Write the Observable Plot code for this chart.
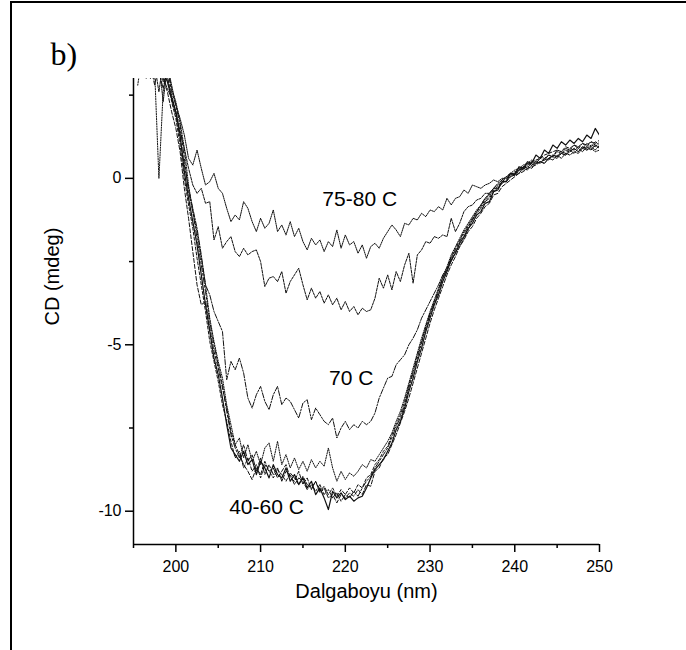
<!DOCTYPE html>
<html>
<head>
<meta charset="utf-8">
<script src="https://cdn.jsdelivr.net/npm/d3@7"></script>
<script src="https://cdn.jsdelivr.net/npm/@observablehq/plot@0.6"></script>
<style>
  html, body { margin: 0; padding: 0; background: #fff; overflow: hidden; }
  #fig { position: relative; width: 686px; height: 650px; overflow: hidden; background: #fff; }
  #fig svg { position: absolute; left: 0; top: 0; }
</style>
</head>
<body>
<div id="fig"></div>
<script>
// Wavelength grid (nm), 0.5 nm steps
const wavelength = [
  195.5, 196, 196.5, 197, 197.5, 198, 198.5, 199, 199.5,
  200, 200.5, 201, 201.5, 202, 202.5, 203, 203.5, 204, 204.5, 205, 205.5, 206, 206.5, 207, 207.5, 208, 208.5, 209, 209.5,
  210, 210.5, 211, 211.5, 212, 212.5, 213, 213.5, 214, 214.5, 215, 215.5, 216, 216.5, 217, 217.5, 218, 218.5, 219, 219.5,
  220, 220.5, 221, 221.5, 222, 222.5, 223, 223.5, 224, 224.5, 225, 225.5, 226, 226.5, 227, 227.5, 228, 228.5, 229, 229.5,
  230, 230.5, 231, 231.5, 232, 232.5, 233, 233.5, 234, 234.5, 235, 235.5, 236, 236.5, 237, 237.5, 238, 238.5, 239, 239.5,
  240, 240.5, 241, 241.5, 242, 242.5, 243, 243.5, 244, 244.5, 245, 245.5, 246, 246.5, 247, 247.5, 248, 248.5, 249, 249.5,
  250
];

// CD signal (mdeg) at each temperature
const cd40 = [
  3.4, 3.6, 3.1, 3.8, 3.3, 3.9, 3.2, 2.9, 2.4,
  2.0, 1.3, 0.2, -0.6, -1.3, -2.0, -2.9, -3.8, -4.6, -5.4, -5.9, -6.6, -7.4, -8.1, -8.3, -8.5, -8.2, -8.6, -8.45, -8.9,
  -8.5, -8.7, -9.0, -8.6, -8.9, -9.0, -8.7, -9.1, -8.9, -9.2, -9.0, -9.3, -9.1, -9.5, -9.3, -9.6, -9.95, -9.4, -9.6, -9.45,
  -9.65, -9.55, -9.7, -9.6, -9.55, -9.3, -9.0, -8.75, -8.6, -8.45, -8.2, -7.95, -7.55, -7.3, -6.9, -6.4, -6.0, -5.5, -5.1, -4.6,
  -4.2, -3.8, -3.5, -3.1, -2.8, -2.45, -2.25, -1.95, -1.75, -1.5, -1.35, -1.1, -1.0, -0.75, -0.7, -0.4, -0.35, -0.1, -0.1, 0.15,
  0.1, 0.35, 0.3, 0.5, 0.45, 0.7, 0.6, 0.85, 0.75, 1.0, 0.9, 1.1, 1.0, 1.15, 1.05, 1.2, 1.1, 1.3, 1.2, 1.5,
  1.3
];
const cd45 = [
  4.0, 3.2, 3.9, 3.4, 2.8, 3.5, 3.0, 2.6, 2.0,
  1.5, 0.8, -0.3, -1.2, -2.2, -3.2, -3.8, -3.7, -4.5, -5.2, -5.7, -6.3, -6.9, -7.6, -8.0, -8.3, -8.6, -8.8, -9.05, -8.7,
  -8.9, -8.5, -8.8, -8.7, -9.0, -8.8, -8.6, -9.0, -9.1, -8.8, -9.2, -9.0, -9.35, -9.1, -9.45, -9.3, -9.6, -9.5, -9.75, -9.5,
  -9.6, -9.45, -9.55, -9.35, -9.5, -9.2, -9.25, -8.8, -8.7, -8.4, -8.3, -8.0, -7.7, -7.35, -7.0, -6.6, -6.15, -5.7, -5.25, -4.8,
  -4.35, -3.95, -3.6, -3.25, -2.9, -2.6, -2.35, -2.05, -1.85, -1.6, -1.45, -1.2, -1.05, -0.85, -0.75, -0.5, -0.45, -0.25, -0.15, -0.05,
  0.05, 0.15, 0.2, 0.3, 0.35, 0.4, 0.5, 0.55, 0.6, 0.7, 0.65, 0.8, 0.75, 0.9, 0.85, 0.95, 0.9, 1.05, 0.95, 1.1,
  1.0
];
const cd50 = [
  3.5, 3.9, 3.3, 3.0, 3.7, 3.2, 2.7, 3.3, 2.6,
  2.2, 1.6, 0.6, -0.4, -1.0, -1.8, -2.6, -3.4, -4.3, -5.0, -5.6, -6.2, -7.0, -7.7, -8.1, -8.4, -8.0, -8.5, -8.3, -8.8,
  -8.4, -8.9, -8.6, -8.9, -8.7, -9.1, -8.8, -8.9, -9.2, -9.0, -9.1, -9.35, -9.2, -9.4, -9.2, -9.5, -9.35, -9.6, -9.45, -9.7,
  -9.5, -9.6, -9.4, -9.55, -9.3, -9.1, -8.95, -8.7, -8.5, -8.3, -8.1, -7.8, -7.45, -7.2, -6.8, -6.3, -5.85, -5.4, -4.95, -4.5,
  -4.1, -3.75, -3.4, -3.0, -2.75, -2.4, -2.15, -1.9, -1.65, -1.45, -1.25, -1.05, -0.9, -0.7, -0.6, -0.4, -0.3, -0.15, -0.05, 0.05,
  0.15, 0.2, 0.35, 0.3, 0.5, 0.45, 0.6, 0.55, 0.7, 0.65, 0.85, 0.8, 0.9, 0.85, 1.0, 0.9, 1.05, 1.0, 1.1, 1.05,
  1.15
];
const cd55 = [
  3.8, 3.4, 4.0, 3.5, 3.0, 3.6, 2.9, 3.1, 2.3,
  1.8, 1.0, 0.0, -0.8, -1.5, -2.4, -3.2, -4.0, -4.9, -5.5, -6.1, -6.8, -7.3, -7.9, -8.4, -8.2, -8.7, -8.4, -8.8, -8.6,
  -9.0, -8.6, -8.8, -9.0, -8.75, -8.9, -9.1, -8.85, -9.0, -9.2, -8.95, -9.2, -9.3, -9.1, -9.4, -9.25, -9.5, -9.3, -9.55, -9.35,
  -9.5, -9.3, -9.45, -9.2, -9.3, -9.0, -8.9, -8.6, -8.45, -8.2, -8.05, -7.7, -7.4, -7.1, -6.7, -6.2, -5.8, -5.3, -4.9, -4.45,
  -4.05, -3.7, -3.35, -3.0, -2.7, -2.35, -2.1, -1.85, -1.6, -1.4, -1.2, -1.0, -0.85, -0.65, -0.55, -0.35, -0.25, -0.1, 0.0, 0.1,
  0.2, 0.25, 0.35, 0.4, 0.5, 0.55, 0.6, 0.7, 0.75, 0.8, 0.85, 0.8, 0.95, 0.9, 1.0, 0.95, 1.05, 0.95, 1.1, 1.0,
  0.95
];
const cd60 = [
  2.8, 3.7, 3.0, 3.6, 3.2, 0.0, 2.6, 3.4, 2.7,
  2.3, 1.7, 0.9, -0.2, -1.0, -1.6, -2.4, -3.2, -4.2, -4.9, -5.5, -6.0, -6.8, -7.4, -8.0, -7.8, -8.4, -8.0, -8.5, -8.2,
  -8.6, -8.1, -7.95, -8.5, -7.9, -8.6, -8.3, -8.7, -8.4, -8.75, -8.5, -8.8, -8.45, -8.7, -8.5, -8.65, -8.1, -8.7, -9.1, -8.8,
  -9.05, -8.85, -8.95, -8.8, -8.6, -8.7, -8.45, -8.5, -8.3, -8.1, -7.9, -7.65, -7.3, -7.0, -6.6, -6.15, -5.7, -5.25, -4.8, -4.4,
  -4.0, -3.65, -3.3, -2.95, -2.65, -2.3, -2.05, -1.8, -1.55, -1.35, -1.15, -0.95, -0.8, -0.6, -0.5, -0.3, -0.2, -0.05, 0.05, 0.15,
  0.25, 0.3, 0.4, 0.45, 0.55, 0.5, 0.65, 0.6, 0.7, 0.65, 0.8, 0.75, 0.85, 0.8, 0.9, 0.8, 0.95, 0.85, 0.9, 0.8,
  0.85
];
const cd70 = [
  3.3, 4.0, 3.4, 3.8, 3.1, 3.6, 3.0, 2.7, 2.4,
  1.9, 1.2, 0.4, -0.3, -0.9, -1.5, -2.3, -3.2, -3.5, -4.0, -4.3, -4.6, -6.05, -5.5, -5.75, -5.4, -5.85, -6.6, -6.9, -6.5,
  -6.25, -6.7, -6.95, -6.5, -6.25, -6.8, -6.6, -6.7, -6.95, -7.2, -6.75, -6.65, -7.25, -6.9, -7.1, -7.3, -7.4, -7.2, -7.8, -7.5,
  -7.3, -7.55, -7.4, -7.5, -7.3, -7.4, -7.3, -7.05, -6.6, -6.3, -6.0, -5.95, -5.6, -5.45, -5.3, -5.0, -4.8, -4.55, -4.2, -3.95,
  -3.7, -3.45, -3.2, -2.9, -2.7, -2.5, -2.2, -2.05, -1.8, -1.55, -1.25, -1.0, -0.8, -0.6, -0.45, -0.3, -0.15, -0.05, 0.05, 0.15,
  0.1, 0.25, 0.3, 0.25, 0.4, 0.45, 0.5, 0.45, 0.6, 0.65, 0.6, 0.75, 0.7, 0.8, 0.9, 0.8, 0.95, 0.9, 1.0, 0.95,
  1.1
];
const cd75 = [
  3.6, 3.8, 3.2, 4.0, 3.4, 2.6, 3.5, 3.0, 2.5,
  2.0, 1.4, 0.9, 0.3, -0.2, -0.45, -0.3, -0.75, -0.7, -1.85, -1.45, -2.1, -1.9, -1.75, -2.2, -2.35, -2.1, -2.3, -2.2, -2.15,
  -2.5, -3.25, -3.0, -2.95, -3.1, -2.8, -3.45, -3.1, -2.9, -2.7, -3.2, -3.65, -3.3, -3.6, -3.4, -3.75, -3.5, -3.8, -3.6, -3.95,
  -3.7, -4.0, -3.85, -4.1, -3.9, -4.0, -3.95, -3.6, -3.0, -3.3, -2.9, -3.35, -2.8, -3.1, -2.6, -2.25, -3.15, -2.3, -2.15, -1.9,
  -1.95, -1.75, -1.8, -1.7, -1.75, -1.2, -1.6, -1.35, -1.0, -0.85, -0.8, -0.65, -0.6, -0.45, -0.45, -0.3, -0.3, -0.1, -0.1, 0.05,
  0.1, 0.15, 0.3, 0.35, 0.3, 0.45, 0.5, 0.45, 0.6, 0.55, 0.7, 0.6, 0.75, 0.7, 0.8, 0.75, 0.9, 0.85, 0.95, 0.85,
  1.0
];
const cd80 = [
  3.2, 3.5, 4.0, 3.2, 4.0, 3.5, 2.3, 3.4, 2.8,
  2.2, 1.8, 1.3, 0.6, 0.4, 0.85, 0.3, -0.2, -0.1, 0.15, -0.3, -0.45, -0.9, -1.3, -1.1, -1.25, -0.7, -0.9, -1.3, -1.6,
  -1.2, -1.5, -1.35, -0.95, -1.6, -1.4, -1.7, -1.3, -1.75, -1.5, -1.9, -2.15, -1.8, -2.0, -1.85, -2.2, -1.9, -2.05, -1.55, -2.1,
  -1.7, -2.0, -1.9, -2.25, -2.0, -2.4, -2.05, -1.95, -2.1, -1.8, -1.6, -1.4, -1.55, -1.75, -1.35, -1.4, -1.2, -1.25, -1.05, -1.15,
  -0.95, -1.0, -0.85, -0.95, -0.6, -0.8, -0.6, -0.55, -0.35, -0.45, -0.2, -0.25, -0.3, -0.2, -0.15, -0.05, -0.1, 0.0, 0.0, 0.15,
  0.15, 0.3, 0.25, 0.45, 0.4, 0.5, 0.45, 0.6, 0.55, 0.7, 0.65, 0.75, 0.7, 0.85, 0.75, 0.9, 0.8, 0.95, 0.85, 1.0,
  0.9
];

const temperatures = ["40 C", "45 C", "50 C", "55 C", "60 C", "70 C", "75 C", "80 C"];
const spectra = [cd40, cd45, cd50, cd55, cd60, cd70, cd75, cd80];

// Annotations (text and data position)
const noteText = ["75-80 C", "70 C", "40-60 C"];
const noteX = [221.7, 220.7, 210.7];
const noteY = [-0.62, -6.02, -9.87];

// Axis ticks
const xMajorTicks = [200, 210, 220, 230, 240, 250];
const xMinorTicks = [195, 205, 215, 225, 235, 245];
const yMajorTicks = [0, -5, -10];
const yMinorTicks = [2.5, -2.5, -7.5];

// Line styles per temperature
const dashes = {
  "40 C": null,
  "45 C": "4,2",
  "50 C": "6,2,2,2",
  "55 C": "3,2",
  "60 C": "1.2,1.3",
  "70 C": "5,1.5,1.5,1.5",
  "75 C": "2.5,1.2",
  "80 C": "1.3,1"
};

const rows = temperatures.flatMap((t, k) =>
  wavelength.map((w, i) => ({temp: t, nm: w, cd: spectra[k][i]}))
);
const notes = noteText.map((t, i) => ({text: t, x: noteX[i], y: noteY[i]}));

const sans = "'Liberation Sans', Arial, Helvetica, sans-serif";
const plain = (d) => String(d); // hyphen-minus for negatives

// Figure panel border (left and top edges of the page box)
const edges = d3.create("svg")
  .attr("width", 686)
  .attr("height", 650);
edges.append("path")
  .attr("d", "M11,650V2H686")
  .attr("fill", "none")
  .attr("stroke", "#000")
  .attr("stroke-width", 2);
document.getElementById("fig").appendChild(edges.node());

const chart = Plot.plot({
  width: 686,
  height: 650,
  marginLeft: 133,
  marginRight: 87,
  marginTop: 78,
  marginBottom: 106,
  style: {fontFamily: sans, background: "transparent", color: "#000", overflow: "visible"},
  x: {domain: [195, 250]},
  y: {domain: [-11, 3]},
  marks: [
    ...temperatures.map((t) =>
      Plot.line(rows.filter((d) => d.temp === t), {
        x: "nm",
        y: "cd",
        stroke: "#111",
        strokeWidth: t === "40 C" ? 1.2 : 1,
        strokeDasharray: dashes[t],
        clip: true
      })
    ),
    Plot.ruleX([195], {strokeWidth: 1.5}),
    Plot.ruleY([-11], {strokeWidth: 1.5}),
    Plot.axisX({ticks: xMajorTicks, tickSize: 8, tickPadding: 8, fontSize: 16, label: null, strokeWidth: 1.5, tickFormat: plain}),
    Plot.axisX({ticks: xMinorTicks, tickSize: 4, tickFormat: () => "", label: null, strokeWidth: 1.5}),
    Plot.axisY({ticks: yMajorTicks, tickSize: 8, tickPadding: 4, fontSize: 16, label: null, strokeWidth: 1.5, tickFormat: plain}),
    Plot.axisY({ticks: yMinorTicks, tickSize: 4, tickFormat: () => "", label: null, strokeWidth: 1.5}),
    Plot.text(["Dalgaboyu (nm)"], {frameAnchor: "bottom", dy: 53, fontSize: 20}),
    Plot.text(["CD (mdeg)"], {frameAnchor: "left", rotate: -90, dx: -81, dy: 14, fontSize: 20}),
    Plot.text(notes, {x: "x", y: "y", text: "text", fontSize: 21}),
    Plot.text(["b)"], {
      frameAnchor: "top-left", textAnchor: "start", dx: -83, dy: -36,
      fontSize: 32, fontFamily: "'Liberation Serif', 'Times New Roman', serif"
    })
  ]
});

document.getElementById("fig").appendChild(chart);
</script>
</body>
</html>
